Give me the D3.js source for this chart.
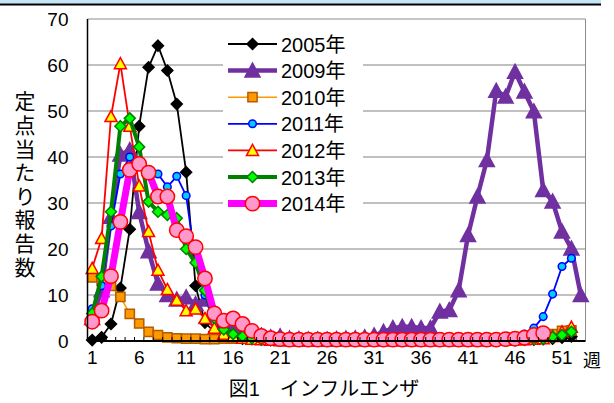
<!DOCTYPE html>
<html>
<head>
<meta charset="utf-8">
<script src="https://cdn.jsdelivr.net/npm/d3@7"></script>
<style>
body { margin: 0; background: #fff; }
svg { display: block; font-family: "Liberation Sans", Arial, "Noto Sans CJK JP", sans-serif; }
</style>
</head>
<body>
<svg width="614" height="403"></svg>
<script>
// Data (weekly reports per sentinel site).
var weeks = d3.range(1, 54);
var xTickLabels = [1, 6, 11, 16, 21, 26, 31, 36, 41, 46, 51];
var yTicks = [0, 10, 20, 30, 40, 50, 60, 70];
var seriesNames = ["2005年", "2009年", "2010年", "2011年", "2012年", "2013年", "2014年"];
var yTitle = "定点当たり報告数";
var xUnit = "週";
var chartTitle = "図1\u3000インフルエンザ";

var v2005 = [0.2, 0.8, 3.7, 11.5, 24.3, 46.7, 59.5, 64.2, 58.8, 51.5,
    36.7, 12, 4, 2, 1.2, 0.8, 0.5, 0.4, 0.3, 0.2,
    0.1, 0.1, 0.1, 0.1, 0.1, 0.1, 0.1, 0.1, 0.1, 0.1,
    0.1, 0.1, 0.1, 0.1, 0.1, 0.1, 0.1, 0.1, 0.1, 0.1,
    0.1, 0.1, 0.1, 0.1, 0.2, 0.2, 0.3, 0.3, 0.4, 0.5,
    0.7, 1.0];
var v2009 = [5, 11, 27, 40.5, 41.5, 28, 19.5, 12.5, 10, 9,
    9.5, 8, 9, 6, 4, 2.5, 1.5, 1, 1.2, 0.8,
    1, 0.5, 0.4, 0.3, 0.3, 0.3, 0.4, 0.5, 0.6, 0.8,
    1.2, 2, 2.8, 3.1, 3.1, 2.8, 2.8, 6.4, 6.7, 11,
    23, 31.4, 39.3, 54.4, 53.1, 58.5, 54.2, 49.9, 32.8, 30.3,
    23.8, 20.1, 10];
var v2010 = [13.8, 13, 12, 9.6, 5.9, 3.8, 2, 1.3, 0.8, 0.6,
    0.5, 0.5, 0.4, 0.4, 0.5, 0.5, 0.5, 0.3, 0.3, 0.2,
    0.2, 0.2, 0.2, 0.2, 0.2, 0.2, 0.2, 0.2, 0.2, 0.2,
    0.2, 0.2, 0.2, 0.2, 0.2, 0.2, 0.2, 0.2, 0.2, 0.2,
    0.2, 0.2, 0.2, 0.2, 0.3, 0.3, 0.4, 0.5, 0.8, 1.5,
    2.2, 2.3];
var v2011 = [7, 12, 25, 36.3, 40, 38, 37, 36.3, 33.5, 35.8,
    31.6, 17, 10, 4, 2, 1.2, 0.8, 0.5, 0.4, 0.3,
    0.2, 0.2, 0.2, 0.2, 0.2, 0.2, 0.2, 0.2, 0.2, 0.2,
    0.2, 0.2, 0.2, 0.2, 0.2, 0.2, 0.2, 0.2, 0.2, 0.2,
    0.2, 0.2, 0.3, 0.3, 0.5, 0.8, 1.5, 2.8, 5.3, 10.2,
    16.2, 18];
var v2012 = [15.8, 22.3, 48.8, 60.3, 46.7, 33.7, 23.8, 15.4, 11.2, 8.9,
    6.6, 7, 4.9, 2.8, 1.5, 1, 0.6, 0.4, 0.3, 0.2,
    0.1, 0.1, 0.1, 0.1, 0.1, 0.1, 0.1, 0.1, 0.1, 0.1,
    0.1, 0.1, 0.1, 0.1, 0.1, 0.1, 0.1, 0.1, 0.1, 0.1,
    0.1, 0.1, 0.1, 0.2, 0.2, 0.3, 0.3, 0.4, 0.5, 1,
    2, 3];
var v2013 = [6, 14, 28.1, 46.7, 48.4, 42.2, 30.3, 28.1, 27.4, 26.7,
    20, 17, 11, 5, 2.5, 1.5, 1, 0.6, 0.4, 0.3,
    0.2, 0.2, 0.2, 0.2, 0.2, 0.2, 0.2, 0.2, 0.2, 0.2,
    0.1, 0.1, 0.1, 0.1, 0.1, 0.1, 0.1, 0.1, 0.1, 0.1,
    0.1, 0.1, 0.1, 0.2, 0.2, 0.3, 0.3, 0.4, 0.5, 0.9,
    1.3, 2];
var v2014 = [4.2, 6.6, 14.1, 25.9, 37.2, 38.5, 36.6, 31.4, 31.4, 24.1,
    22.8, 20.4, 13.6, 6, 4.4, 4.9, 3.7, 2.2, 1.1, 0.6,
    0.4, 0.3, 0.3, 0.3, 0.3, 0.3, 0.3, 0.3, 0.3, 0.3,
    0.3, 0.3, 0.3, 0.3, 0.3, 0.3, 0.3, 0.3, 0.3, 0.3,
    0.3, 0.3, 0.3, 0.3, 0.4, 0.5, 0.7, 1.3, 1.7];

// series table built from the arrays above, plus drawing styles
var series = [
    {name: seriesNames[0], values: v2005, line: "#000000", lw: 1.8, shape: "diamond", size: 5.5, fill: "#000000", stroke: "#000000"},
    {name: seriesNames[1], values: v2009, line: "#7030a0", lw: 4.5, shape: "triangle", size: 7.5, fill: "#7030a0", stroke: "#7030a0"},
    {name: seriesNames[2], values: v2010, line: "#ff9900", lw: 1.5, shape: "square", size: 4.6, fill: "#ff9900", stroke: "#b35c00"},
    {name: seriesNames[3], values: v2011, line: "#0000ff", lw: 1.8, shape: "circle", size: 3.8, fill: "#00ccff", stroke: "#0000ff"},
    {name: seriesNames[4], values: v2012, line: "#ff0000", lw: 1.8, shape: "triangle", size: 6, fill: "#ffff00", stroke: "#ff0000"},
    {name: seriesNames[5], values: v2013, line: "#008000", lw: 4, shape: "diamond", size: 5.5, fill: "#00ff00", stroke: "#008000"},
    {name: seriesNames[6], values: v2014, line: "#ff00ff", lw: 7, shape: "circle", size: 7.2, fill: "#ff99cc", stroke: "#ff0000"}
];

var svg = d3.select("svg");
var plotL = 87.5, plotR = 585.5, plotT = 19, plotB = 341;

var x = d3.scaleBand().domain(weeks).range([plotL, plotR]);
var y = d3.scaleLinear().domain([0, 70]).range([plotB, plotT]);
function cx(i) { return x(weeks[i]) + x.bandwidth() / 2; }

// marker shapes, centred on their bounding box like the spreadsheet ones
function markerPath(shape, s) {
    if (shape == "diamond") return "M0," + (-s) + "L" + s + ",0L0," + s + "L" + (-s) + ",0Z";
    if (shape == "triangle") return "M0," + (-s) + "L" + s + "," + (s * 0.85) + "L" + (-s) + "," + (s * 0.85) + "Z";
    if (shape == "square") return "M" + (-s) + "," + (-s) + "H" + s + "V" + s + "H" + (-s) + "Z";
    return d3.symbol().type(d3.symbolCircle).size(Math.PI * s * s)();
}

// header band
svg.append("rect").attr("x", 0).attr("y", 0).attr("width", 601).attr("height", 3.5).attr("fill", "#c4e4f7");
svg.append("line").attr("x1", 0).attr("x2", 601).attr("y1", 4.6).attr("y2", 4.6)
    .attr("stroke", "#000").attr("stroke-width", 2);

// gridlines
svg.append("g").selectAll("line")
    .data(yTicks.filter(function (d) { return d > 0; }))
    .enter().append("line")
    .attr("x1", plotL).attr("x2", plotR)
    .attr("y1", function (d) { return y(d); })
    .attr("y2", function (d) { return y(d); })
    .attr("stroke", function (d) { return d == 70 ? "#8c8c8c" : "#c0c0c0"; })
    .attr("stroke-width", function (d) { return d == 70 ? 1 : 2.2; });

svg.append("line").attr("x1", plotR).attr("x2", plotR).attr("y1", plotT).attr("y2", plotB)
    .attr("stroke", "#8c8c8c").attr("stroke-width", 1);

// y axis labels
var yAxis = svg.append("g")
    .attr("transform", "translate(" + plotL + ",0)")
    .call(d3.axisLeft(y).tickValues(yTicks).tickSize(0).tickPadding(19));
yAxis.select(".domain").remove();
yAxis.selectAll("text").attr("font-size", 19).attr("fill", "#000")
    .attr("font-family", "Liberation Sans, Arial, sans-serif");

// x axis labels
var xAxis = svg.append("g")
    .attr("transform", "translate(0," + plotB + ")")
    .call(d3.axisBottom(x).tickValues(xTickLabels).tickSize(0).tickPadding(10));
xAxis.select(".domain").remove();
xAxis.selectAll("text").attr("font-size", 19).attr("fill", "#000")
    .attr("font-family", "Liberation Sans, Arial, sans-serif");

svg.append("text").attr("x", 592).attr("y", 367).attr("text-anchor", "middle")
    .attr("font-size", 18).text(xUnit);

// series
var line = d3.line()
    .x(function (d, i) { return cx(i); })
    .y(function (d) { return y(d); });

series.forEach(function (s) {
    var g = svg.append("g");
    g.append("path")
        .attr("d", line(s.values))
        .attr("fill", "none")
        .attr("stroke", s.line)
        .attr("stroke-width", s.lw)
        .attr("stroke-linejoin", "round");
    g.selectAll("path.m")
        .data(s.values)
        .enter().append("path")
        .attr("class", "m")
        .attr("d", markerPath(s.shape, s.size))
        .attr("transform", function (d, i) { return "translate(" + cx(i) + "," + y(d) + ")"; })
        .attr("fill", s.fill)
        .attr("stroke", s.stroke)
        .attr("stroke-width", 1.5);
});

// axis lines on top
svg.append("line").attr("x1", plotL).attr("x2", plotL).attr("y1", plotT).attr("y2", plotB)
    .attr("stroke", "#000").attr("stroke-width", 1.5);
svg.append("line").attr("x1", plotL).attr("x2", plotR).attr("y1", plotB).attr("y2", plotB)
    .attr("stroke", "#000").attr("stroke-width", 2);
svg.append("g").selectAll("line")
    .data(weeks)
    .enter().append("line")
    .attr("x1", function (d) { return x(d); })
    .attr("x2", function (d) { return x(d); })
    .attr("y1", plotB).attr("y2", plotB - 4)
    .attr("stroke", "#000").attr("stroke-width", 1);

// legend
var legend = svg.append("g");
legend.append("rect").attr("x", 223).attr("y", 31).attr("width", 140).attr("height", 186).attr("fill", "#fff");
var legRow = legend.selectAll("g.legend")
    .data(series)
    .enter().append("g")
    .attr("class", "legend")
    .attr("transform", function (d, i) { return "translate(0," + (44 + i * 26.6) + ")"; });
legRow.append("line")
    .attr("x1", 228).attr("x2", 277).attr("y1", 0).attr("y2", 0)
    .attr("stroke", function (d) { return d.line; })
    .attr("stroke-width", function (d) { return d.lw; });
legRow.append("path")
    .attr("d", function (d) { return markerPath(d.shape, d.size); })
    .attr("transform", "translate(252.5,0)")
    .attr("fill", function (d) { return d.fill; })
    .attr("stroke", function (d) { return d.stroke; })
    .attr("stroke-width", 1.5);
legRow.append("text")
    .attr("x", 281).attr("y", 7.5)
    .attr("font-size", 20)
    .text(function (d) { return d.name; });

// vertical y title
svg.append("text")
    .attr("x", 25)
    .attr("y", 91)
    .attr("font-size", 21)
    .attr("font-family", "Noto Sans CJK JP, sans-serif")
    .style("writing-mode", "vertical-rl")
    .style("letter-spacing", "2.6px")
    .text(yTitle);

svg.append("text").attr("x", 324).attr("y", 396).attr("text-anchor", "middle")
    .attr("font-size", 20).text(chartTitle);
</script>
</body>
</html>
